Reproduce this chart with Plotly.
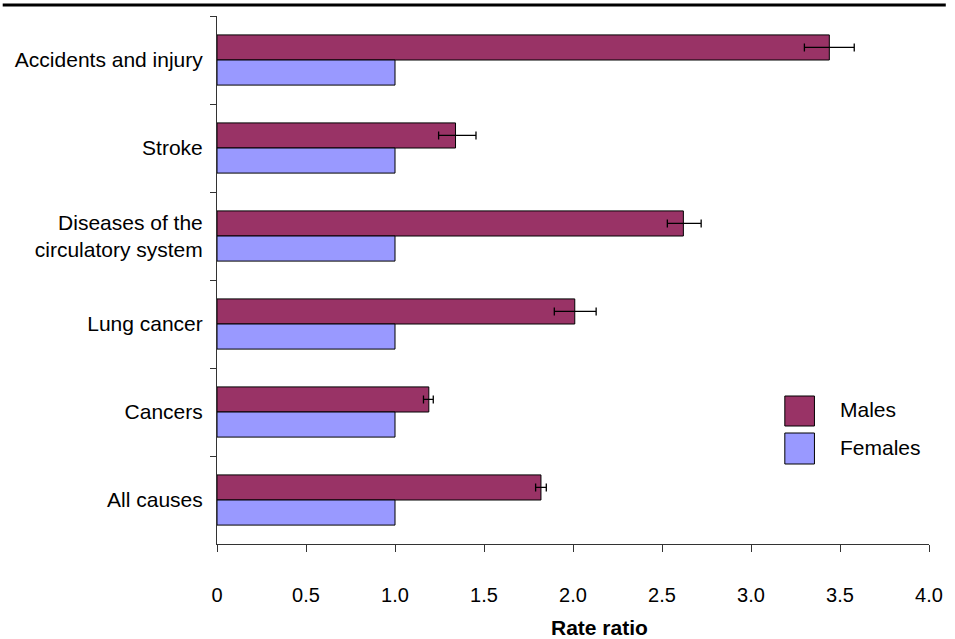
import plotly.graph_objects as go

categories = ["Accidents and injury", "Stroke", "Diseases of the<br>circulatory system",
              "Lung cancer", "Cancers", "All causes"]
males = [3.44, 1.34, 2.62, 2.01, 1.19, 1.82]
males_ci_low = [3.30, 1.245, 2.53, 1.895, 1.16, 1.79]
males_ci_high = [3.58, 1.455, 2.72, 2.13, 1.215, 1.85]
females = [1.0, 1.0, 1.0, 1.0, 1.0, 1.0]
x_ticks = [0, 0.5, 1.0, 1.5, 2.0, 2.5, 3.0, 3.5, 4.0]
x_ticktext = ["0", "0.5", "1.0", "1.5", "2.0", "2.5", "3.0", "3.5", "4.0"]

MALE_COLOR = "#993366"
FEMALE_COLOR = "#9999FF"
FONT = "Liberation Sans, Arial, sans-serif"

err_plus = [h - v for h, v in zip(males_ci_high, males)]
err_minus = [v - l for l, v in zip(males_ci_low, males)]

fig = go.Figure()
fig.add_trace(go.Bar(
    y=categories, x=males, orientation="h", name="Males",
    marker=dict(color=MALE_COLOR, line=dict(color="#000000", width=1)),
    error_x=dict(type="data", symmetric=False, array=err_plus, arrayminus=err_minus,
                 color="#000000", thickness=1.3, width=4),
    showlegend=False,
))
fig.add_trace(go.Bar(
    y=categories, x=females, orientation="h", name="Females",
    marker=dict(color=FEMALE_COLOR, line=dict(color="#000000", width=1)),
    showlegend=False,
))

L, R, T, B = 217, 17, 16, 95
W, H = 955, 639
pw, ph = W - L - R, H - T - B

def px_x(p):
    return (p - L) / pw

def px_y(p):
    return (H - B - p) / ph

shapes = [
    # top rule
    dict(type="line", xref="paper", yref="paper", x0=px_x(0), x1=px_x(955),
         y0=px_y(5), y1=px_y(5), line=dict(color="#000000", width=3)),
    # legend boxes
    dict(type="rect", xref="paper", yref="paper", x0=px_x(792), x1=px_x(822),
         y0=px_y(426), y1=px_y(396), fillcolor=MALE_COLOR, line=dict(color="#000000", width=1)),
    dict(type="rect", xref="paper", yref="paper", x0=px_x(792), x1=px_x(822),
         y0=px_y(464), y1=px_y(433), fillcolor=FEMALE_COLOR, line=dict(color="#000000", width=1)),
]
annotations = [
    dict(text="Males", xref="paper", yref="paper", x=px_x(846), y=px_y(409),
         xanchor="left", yanchor="middle", showarrow=False, font=dict(size=21, color="#000")),
    dict(text="Females", xref="paper", yref="paper", x=px_x(846), y=px_y(448),
         xanchor="left", yanchor="middle", showarrow=False, font=dict(size=21, color="#000")),
    dict(text="<b>Rate ratio</b>", xref="paper", yref="paper", x=px_x(604), y=px_y(627),
         xanchor="center", yanchor="middle", showarrow=False, font=dict(size=21, color="#000")),
]

fig.update_layout(
    width=W, height=H,
    margin=dict(l=L, r=R, t=T, b=B, pad=0),
    paper_bgcolor="white", plot_bgcolor="white",
    font=dict(family=FONT, size=20, color="#000000"),
    barmode="group", bargap=0.43, bargroupgap=0,
    shapes=shapes, annotations=annotations,
    xaxis=dict(range=[0, 4], tickvals=x_ticks, ticktext=x_ticktext,
               showgrid=False, zeroline=False, showline=True, linecolor="#333333", linewidth=1,
               ticks="outside", ticklen=7, tickcolor="#333333", ticklabelstandoff=26,
               tickfont=dict(size=20), fixedrange=True),
    yaxis=dict(type="category", autorange="reversed", showgrid=False, zeroline=False,
               showline=True, linecolor="#333333", linewidth=1,
               ticks="outside", ticklen=6, tickcolor="#333333", tickson="boundaries",
               ticklabelstandoff=9, tickfont=dict(size=21), fixedrange=True),
)

fig.write_html("out.html")
